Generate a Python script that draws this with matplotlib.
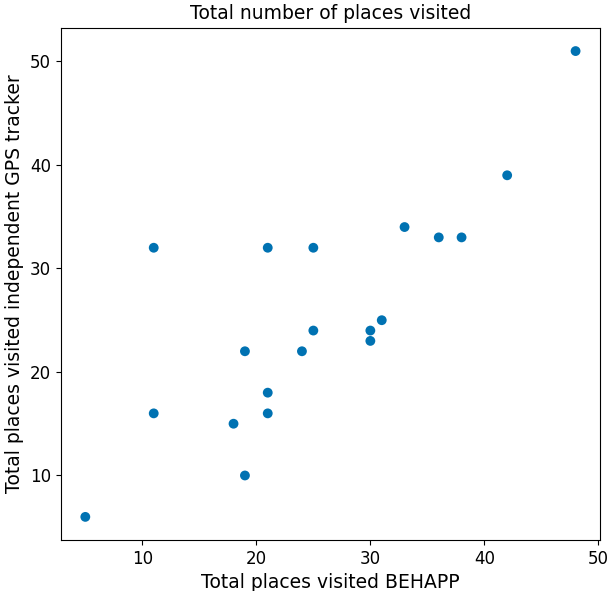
import matplotlib
matplotlib.use('Agg')
import matplotlib.pyplot as plt

# places visited per participant: BEHAPP vs. independent GPS tracker
behapp = [5, 11, 11, 18, 19, 19, 21, 21, 21, 24, 25, 25, 30, 30, 31, 33, 36, 38, 42, 48]
gps = [6, 32, 16, 15, 22, 10, 32, 18, 16, 22, 32, 24, 24, 23, 25, 34, 33, 33, 39, 51]

fig = plt.figure(figsize=(6.08, 5.91), dpi=100)
ax = fig.add_axes([0.100, 0.086, 0.887, 0.867])

ax.scatter(behapp, gps, color='#0072B2', s=50, edgecolors='none')

ax.set_title('Total number of places visited', fontsize=13.5)
ax.set_xlabel('Total places visited BEHAPP', fontsize=13.5)
ax.set_ylabel('Total places visited independent GPS tracker', fontsize=13.5)
ax.tick_params(labelsize=12)

fig.savefig('out.png', dpi=100)
